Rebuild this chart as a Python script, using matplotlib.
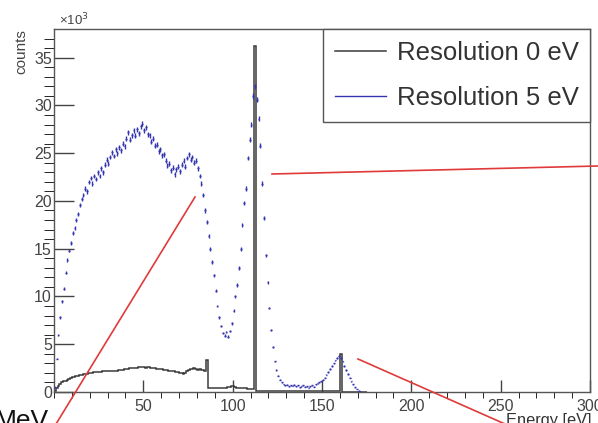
import numpy as np
import matplotlib
matplotlib.use("Agg")
import matplotlib.pyplot as plt
from matplotlib.lines import Line2D

plt.rcParams['font.family'] = ['Liberation Sans', 'DejaVu Sans']

# ---- data (counts in units of 10^3, 1 eV bins starting at 0) ----
bin_width = 1.0
blue_counts = [
    0.5, 3.5, 6.0, 7.8, 9.5, 10.8, 12.5, 13.8, 14.8, 15.6,
    16.6, 17.2, 18.0, 18.6, 19.6, 20.2, 20.6, 21.3, 21.0, 22.0,
    22.4, 21.8, 22.6, 22.3, 23.0, 22.6, 23.4, 23.0, 23.8, 24.3,
    23.9, 24.6, 25.1, 24.7, 25.4, 25.0, 25.6, 25.3, 26.0, 25.7,
    26.5, 27.2, 26.4, 26.9, 27.4, 26.8, 27.5, 27.1, 27.8, 28.1,
    27.4, 27.7, 27.0, 26.9, 26.2, 26.5, 25.8, 25.9, 25.2, 25.4,
    24.8, 24.9, 24.2, 23.7, 23.9, 23.2, 23.5, 22.8, 23.3, 23.6,
    23.1, 23.8, 24.2, 23.6, 24.5, 24.9, 24.3, 24.6, 24.0, 24.2,
    23.4, 22.6, 21.8, 20.6, 19.0, 17.8, 16.3, 15.0, 13.6, 12.2,
    10.6, 9.0, 7.8, 6.9, 6.2, 5.9, 6.3, 5.8, 6.4, 7.2,
    8.5, 10.0, 11.2, 13.0, 15.0, 17.5, 19.8, 21.3, 24.5, 26.4,
    28.0, 31.0, 32.0, 30.6, 28.6, 25.8, 21.8, 18.2, 14.3, 11.5,
    8.8, 6.5, 4.7, 3.2, 2.3, 1.7, 1.3, 1.0, 0.8, 0.7,
    0.75, 0.6, 0.7, 0.65, 0.75, 0.6, 0.7, 0.5, 0.6, 0.7,
    0.55, 0.6, 0.45, 0.6, 0.7, 0.55, 0.8, 0.9, 1.0, 1.1,
    1.3, 1.5, 1.8, 2.1, 2.4, 2.7, 3.0, 3.3, 3.6, 3.8,
    3.6, 3.2, 2.7, 2.3, 1.9, 1.5, 1.1, 0.8, 0.5, 0.3,
    0.15, 0.05, 0.0, 0.0, 0.0,
]
black_counts = [
    0.1, 0.4, 0.65, 0.85, 1.0, 1.1, 1.2, 1.3, 1.4, 1.5,
    1.55, 1.6, 1.65, 1.7, 1.75, 1.8, 1.85, 1.9, 1.9, 1.95,
    2.0, 2.0, 2.05, 2.05, 2.1, 2.1, 2.1, 2.15, 2.15, 2.2,
    2.2, 2.2, 2.2, 2.25, 2.2, 2.25, 2.3, 2.3, 2.35, 2.4,
    2.4, 2.45, 2.5, 2.5, 2.55, 2.5, 2.55, 2.6, 2.6, 2.6,
    2.6, 2.55, 2.6, 2.6, 2.55, 2.5, 2.5, 2.45, 2.45, 2.4,
    2.4, 2.35, 2.3, 2.3, 2.25, 2.2, 2.2, 2.15, 2.1, 2.05,
    2.0, 1.95, 1.9, 2.0, 2.2, 2.3, 2.4, 2.45, 2.5, 2.4,
    2.35, 2.4, 2.3, 2.3, 2.25, 3.3, 0.45, 0.45, 0.45, 0.45,
    0.45, 0.45, 0.4, 0.45, 0.45, 0.45, 0.45, 0.5, 0.55, 0.65,
    0.6, 0.5, 0.45, 0.4, 0.4, 0.4, 0.4, 0.4, 0.35, 0.35,
    0.35, 0.35, 36.2, 0.15, 0.15, 0.15, 0.15, 0.15, 0.15, 0.15,
    0.15, 0.15, 0.15, 0.15, 0.15, 0.15, 0.15, 0.15, 0.15, 0.15,
    0.15, 0.15, 0.15, 0.15, 0.15, 0.15, 0.15, 0.15, 0.15, 0.15,
    0.15, 0.15, 0.15, 0.15, 0.15, 0.15, 0.15, 0.15, 0.15, 0.15,
    0.15, 0.15, 0.15, 0.15, 0.15, 0.15, 0.15, 0.15, 0.15, 0.15,
    4.0, 0.0, 0.0, 0.0, 0.0, 0.0, 0.0, 0.0, 0.0, 0.0,
    0.0, 0.0, 0.0, 0.0, 0.0,
]
labels = ["Resolution 0 eV", "Resolution 5 eV"]
x_major = [50, 100, 150, 200, 250, 300]
y_major = [0, 5, 10, 15, 20, 25, 30, 35]

W, H = 598, 423
fig = plt.figure(figsize=(W / 100, H / 100), dpi=100)
ax = fig.add_axes([54 / W, 1 - 392 / H, (590 - 54) / W, (392 - 29) / H])

blue = np.array(blue_counts)
black = np.array(black_counts)
edges_b = np.arange(len(black) + 1) * bin_width
centers = (np.arange(len(blue)) + 0.5) * bin_width
err = np.sqrt(blue * 1000.0) / 1000.0 * 1.6

ax.stairs(black, edges_b, color='#3a3a3a', lw=1.1, zorder=2, label=labels[0])
mask = blue > 0
ax.errorbar(centers[mask], blue[mask], xerr=bin_width / 2, yerr=err[mask],
            fmt='none', ecolor='#3535b0', elinewidth=1.0, zorder=3)
blue_handle = Line2D([], [], color='#3535b0', lw=1.0)
black_handle = Line2D([], [], color='#3a3a3a', lw=1.1)

ax.set_xlim(0, 300)
ax.set_ylim(0, 38)
ax.set_xticks(x_major)
ax.set_xticks(np.arange(0, 301, 10), minor=True)
ax.set_yticks(y_major)
ax.set_yticks(np.arange(0, 38, 1), minor=True)
ax.tick_params(axis='both', direction='in', colors='#444444', labelcolor='#444444',
               labelsize=11.5, width=1.0)
ax.tick_params(axis='y', which='major', length=14.4, pad=1.5)
ax.tick_params(axis='y', which='minor', length=7.0)
ax.tick_params(axis='x', which='major', length=8.6, pad=5)
ax.tick_params(axis='x', which='minor', length=4.3)
for s in ax.spines.values():
    s.set_color('#555555')
    s.set_linewidth(1.0)

leg = ax.legend([black_handle, blue_handle], labels, loc='upper right',
                bbox_to_anchor=(1.0, 1.0), borderaxespad=0, fancybox=False,
                framealpha=1, edgecolor='#555555', fontsize=18.5,
                handlelength=2.0, handletextpad=0.4, labelspacing=0.85,
                borderpad=0.45)
leg.get_frame().set_linewidth(1.0)
for t in leg.get_texts():
    t.set_color('#333333')

def fx(px):
    return px / W

def fy(py):
    return 1 - py / H

fig.text(fx(59), fy(12), '×10$^{3}$', fontsize=9.5, color='#444444', va='top', ha='left')
fig.text(fx(21), fy(29), 'counts', fontsize=11, color='#444444', rotation=90,
         va='top', ha='center')
fig.text(fx(591), fy(413), 'Energy [eV]', fontsize=11.8, color='#333333', va='top', ha='right')
fig.text(fx(-5), fy(409), 'MeV', fontsize=19, color='#111111', va='top', ha='left')

red = '#e03a3a'
for (x0, y0, x1, y1) in [(56, 424, 195, 197), (272, 174, 598, 166), (358, 359, 505, 424)]:
    fig.add_artist(Line2D([fx(x0), fx(x1)], [fy(y0), fy(y1)], transform=fig.transFigure,
                          color=red, lw=1.2, zorder=10))

fig.savefig('out.png', dpi=100)
